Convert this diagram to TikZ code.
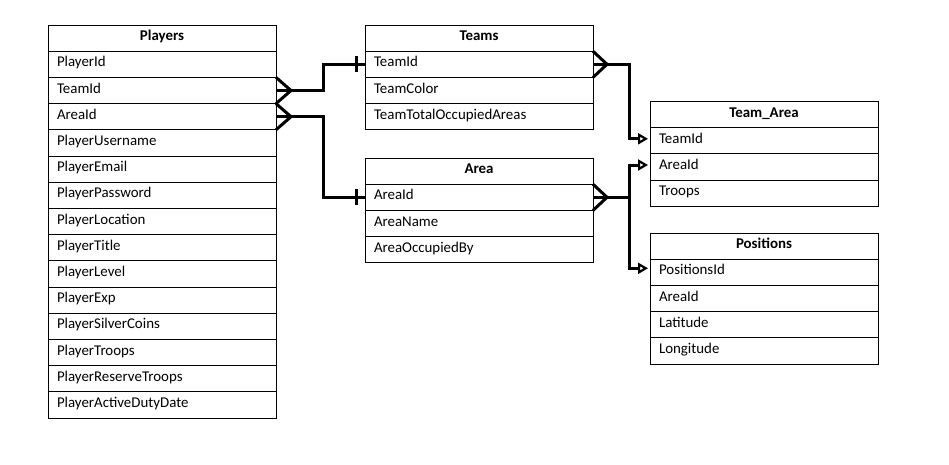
\documentclass[tikz,border=0pt]{standalone}
\usepackage{fontspec}
\setmainfont{Carlito}
\usetikzlibrary{arrows.meta,calc}
\begin{document}
\begin{tikzpicture}[x=1pt,y=-1pt,
  cell/.style={draw,line width=0.9pt,minimum width=228pt,minimum height=26.2pt,
    inner xsep=9pt,inner ysep=0pt,outer sep=0pt,anchor=north west,
    text width=210pt,text height=10pt,text depth=5pt,
    font=\fontsize{14.9}{16}\selectfont},
  headcell/.style={cell,align=center,font=\fontsize{14.9}{16}\selectfont\bfseries},
  fieldcell/.style={cell,align=left},
  conn/.style={line width=3pt,line cap=butt,line join=miter},
  tip/.style={-{Triangle[open,length=10pt,width=11pt,line width=2.2pt]}}
]
\fill[white] (0,0) rectangle (949,464);
\useasboundingbox (0,0) rectangle (949,464);

% Players
\node[headcell] (P) at (48,25) {Players};
\foreach \t [count=\i] in {PlayerId,TeamId,AreaId,PlayerUsername,PlayerEmail,PlayerPassword,PlayerLocation,PlayerTitle,PlayerLevel,PlayerExp,PlayerSilverCoins,PlayerTroops,PlayerReserveTroops,PlayerActiveDutyDate}
  \node[fieldcell] (P\i) at (48,{25+26.2*\i}) {\t};

% Teams
\node[headcell] (T) at (365,25) {Teams};
\foreach \t [count=\i] in {TeamId,TeamColor,TeamTotalOccupiedAreas}
  \node[fieldcell] (T\i) at (365,{25+26.2*\i}) {\t};

% Area
\node[headcell] (A) at (365,158) {Area};
\foreach \t [count=\i] in {AreaId,AreaName,AreaOccupiedBy}
  \node[fieldcell] (A\i) at (365,{158+26.2*\i}) {\t};

% Team_Area
\node[headcell] (TA) at (650,101.5) {Team\_Area};
\foreach \t [count=\i] in {TeamId,AreaId,Troops}
  \node[fieldcell] (TA\i) at (650,{101.5+26.2*\i}) {\t};

% Positions
\node[headcell] (PO) at (650,233) {Positions};
\foreach \t [count=\i] in {PositionsId,AreaId,Latitude,Longitude}
  \node[fieldcell] (PO\i) at (650,{233+26.2*\i}) {\t};

% Players.TeamId -> Teams.TeamId
\draw[conn] (P2.north east) -- ($(P2.east)+(15,0)$) -- (P2.south east);
\draw[conn] (P2.east) -- ++(47,0) |- (T1.west);
\draw[conn] ($(T1.west)+(-9,-8)$) -- ($(T1.west)+(-9,8)$);

% Players.AreaId -> Area.AreaId
\draw[conn] (P3.north east) -- ($(P3.east)+(15,0)$) -- (P3.south east);
\draw[conn] (P3.east) -- ++(47,0) |- (A1.west);
\draw[conn] ($(A1.west)+(-9,-8)$) -- ($(A1.west)+(-9,8)$);

% Teams.TeamId -> Team_Area.TeamId
\draw[conn] (T1.north east) -- ($(T1.east)+(14,0)$) -- (T1.south east);
\draw[conn,tip] (T1.east) -- ++(36,0) |- ($(TA1.west)+(-2,-2)$);

% Area.AreaId -> Team_Area.AreaId, Positions.PositionsId
\draw[conn] (A1.north east) -- ($(A1.east)+(14,0)$) -- (A1.south east);
\draw[conn] (A1.east) -- ++(36,0) coordinate (split);
\draw[conn,tip] (split) |- ($(TA2.west)+(-2,-2)$);
\draw[conn,tip] (split) |- ($(PO1.west)+(-2,-4)$);
\end{tikzpicture}
\end{document}
